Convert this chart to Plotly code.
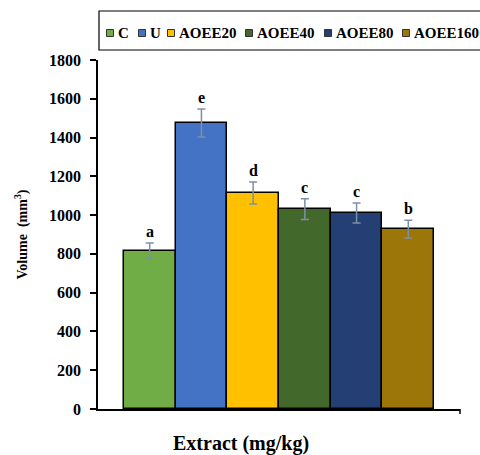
import plotly.graph_objects as go

groups = ["C", "U", "AOEE20", "AOEE40", "AOEE80", "AOEE160"]
volume = [815, 1475, 1114, 1031, 1011, 928]
error = [41, 72, 57, 54, 52, 46]
letters = ["a", "e", "d", "c", "c", "b"]
colors = ["#70ad47", "#4472c4", "#ffc000", "#43682c", "#243f73", "#9c7608"]
y_ticks = [0, 200, 400, 600, 800, 1000, 1200, 1400, 1600, 1800]

W, H = 480, 455
L, R, T, B = 98, 20, 60, 46
pw, ph = W - L - R, H - T - B

def px(x):
    return (x - L) / pw

def py(y):
    return (H - B - y) / ph

FONT = "Liberation Serif"

fig = go.Figure()
fig.add_trace(go.Bar(
    x=groups, y=volume,
    marker=dict(color=colors, line=dict(color="#000000", width=1.5)),
    error_y=dict(type="data", array=error, visible=True, color="#7d90a6",
                 thickness=1.5, width=4),
    showlegend=False,
))

annotations = []
for g, v, e, l in zip(groups, volume, error, letters):
    annotations.append(dict(x=g, y=v + e, xref="x", yref="y", text=f"<b>{l}</b>",
                            showarrow=False, yanchor="bottom", yshift=1,
                            font=dict(family=FONT, size=16, color="#000")))

# manual legend
leg_sq = [110, 142, 171, 249, 328, 406]
shapes = [dict(type="rect", xref="paper", yref="paper",
               x0=px(99), x1=px(490), y0=py(50), y1=py(11),
               line=dict(color="#000", width=1.2), fillcolor="rgba(0,0,0,0)")]
for g, c, sx in zip(groups, colors, leg_sq):
    shapes.append(dict(type="rect", xref="paper", yref="paper",
                       x0=px(sx - 3.5), x1=px(sx + 3.5), y0=py(36.5), y1=py(29.5),
                       line=dict(color="#333", width=1), fillcolor=c))
    annotations.append(dict(x=px(sx + 6), y=py(33), xref="paper", yref="paper",
                            text=f"<b>{g}</b>", showarrow=False, xanchor="left",
                            yanchor="middle",
                            font=dict(family=FONT, size=15, color="#000")))

# small tick at right end of x-axis
shapes.append(dict(type="line", xref="paper", yref="paper", x0=1, x1=1,
                   y0=0, y1=py(H - B + 5), line=dict(color="#000", width=1.5)))

annotations.append(dict(x=px(241), y=py(443), xref="paper", yref="paper",
                        text="<b>Extract (mg/kg)</b>", showarrow=False,
                        xanchor="center", yanchor="middle",
                        font=dict(family=FONT, size=20, color="#000")))

fig.update_layout(
    width=W, height=H,
    margin=dict(l=L, r=R, t=T, b=B, pad=0),
    plot_bgcolor="white", paper_bgcolor="white",
    bargap=0,
    annotations=annotations, shapes=shapes,
    showlegend=False,
    xaxis=dict(range=[-1.0, 6.0], showticklabels=False, ticks="",
               showline=True, linecolor="#000", linewidth=1.5,
               showgrid=False, zeroline=False, fixedrange=True),
    yaxis=dict(range=[0, 1800], tickvals=y_ticks,
               ticktext=[f"<b>{t}</b>" for t in y_ticks],
               ticks="outside", ticklen=6, tickwidth=1.5, tickcolor="#000",
               ticklabelstandoff=6,
               showline=True, linecolor="#000", linewidth=1.5,
               showgrid=False, zeroline=False,
               tickfont=dict(family=FONT, size=16, color="#000"),
               title=dict(text="<b>Volume  (mm<sup>3</sup>)</b>", standoff=18,
                          font=dict(family=FONT, size=14, color="#000"))),
)

fig.write_html("out.html")
